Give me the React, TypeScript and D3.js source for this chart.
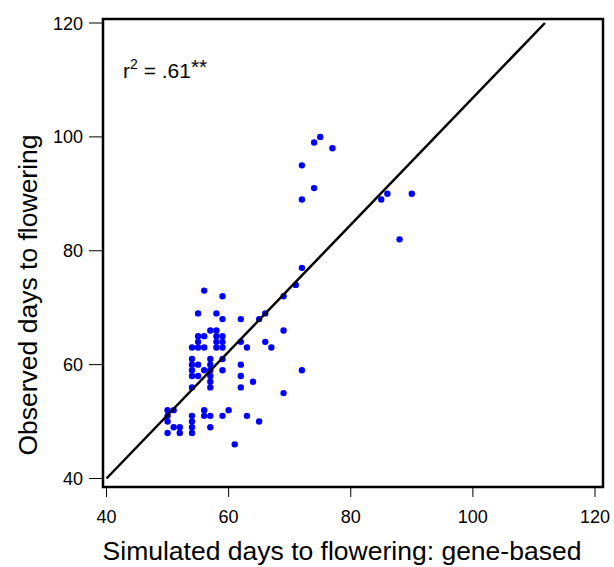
import React from "react";
import * as d3 from "d3";

const simulated: number[] = [
  72, 74, 75, 77, 74, 72, 85, 86, 90, 88, 72, 71, 69, 66, 65, 69, 66, 67, 72, 64, 69, 63, 65, 63,
  62, 62, 62, 62, 62, 60, 61,
  56, 59, 55, 58, 59, 57, 58, 55, 56, 58, 59, 55, 58, 59, 54, 55, 56, 58, 59,
  54, 57, 59, 54, 55, 57, 54, 56, 57, 59, 54, 55, 57, 57, 54, 57,
  50, 51, 50, 56, 54, 56, 57, 59, 50, 54, 51, 52, 54, 57, 50, 52, 54,
];
const observed: number[] = [
  95, 99, 100, 98, 91, 89, 89, 90, 90, 82, 77, 74, 72, 69, 68, 66, 64, 63, 59, 57, 55, 51, 50, 63,
  68, 64, 60, 58, 56, 52, 46,
  73, 72, 69, 69, 68, 66, 66, 65, 65, 65, 65, 64, 64, 64, 63, 63, 63, 63, 63,
  61, 61, 61, 60, 60, 60, 59, 59, 59, 59, 58, 58, 58, 57, 56, 56,
  52, 52, 51, 52, 51, 51, 51, 51, 50, 50, 49, 49, 49, 49, 48, 48, 48,
];
const fitX: number[] = [40, 111.8];
const fitY: number[] = [40, 120];
const xTicks: number[] = [40, 60, 80, 100, 120];
const yTicks: number[] = [40, 60, 80, 100, 120];
const xTitle = "Simulated days to flowering: gene-based";
const yTitle = "Observed days to flowering";

export default function App() {
  const x = d3.scaleLinear().domain([40, 120]).range([106.5, 595]);
  const y = d3.scaleLinear().domain([40, 120]).range([478.5, 23]);
  const box = { l: 103, t: 19, r: 603, b: 487 };
  const font = "Liberation Sans, Arial, sans-serif";
  const line = d3.line<number>()
    .x((_, i) => x(fitX[i]))
    .y((_, i) => y(fitY[i]));

  return (
    <svg width={614} height={567} style={{ position: "absolute", left: 0, top: 0 }} fontFamily={font}>
      <rect x={0} y={0} width={614} height={567} fill="white" />
      {simulated.map((s, i) => (
        <circle key={i} cx={x(s)} cy={y(observed[i])} r={3.2} fill="#0000ff" />
      ))}
      <path d={line(fitX) || ""} stroke="black" strokeWidth={2.5} fill="none" />
      <rect x={box.l} y={box.t} width={box.r - box.l} height={box.b - box.t} fill="none" stroke="black" strokeWidth={2.5} />
      {xTicks.map((t) => (
        <g key={"x" + t}>
          <line x1={x(t)} x2={x(t)} y1={box.b + 1} y2={box.b + 10} stroke="black" strokeWidth={1} />
          <text x={x(t)} y={box.b + 36} textAnchor="middle" fontSize={18}>{t}</text>
        </g>
      ))}
      {yTicks.map((t) => (
        <g key={"y" + t}>
          <line x1={box.l - 1} x2={box.l - 14} y1={y(t)} y2={y(t)} stroke="black" strokeWidth={1} />
          <text x={box.l - 20} y={y(t) + 6.5} textAnchor="end" fontSize={18}>{t}</text>
        </g>
      ))}
      <text x={342} y={560} textAnchor="middle" fontSize={26.5}>{xTitle}</text>
      <text transform={`translate(37,295) rotate(-90)`} textAnchor="middle" fontSize={26.5}>{yTitle}</text>
      <text x={123} y={78} fontSize={21}>
        r<tspan dy={-9} fontSize={14}>2</tspan><tspan dy={9}> = .61</tspan><tspan dy={-4}>**</tspan>
      </text>
    </svg>
  );
}
